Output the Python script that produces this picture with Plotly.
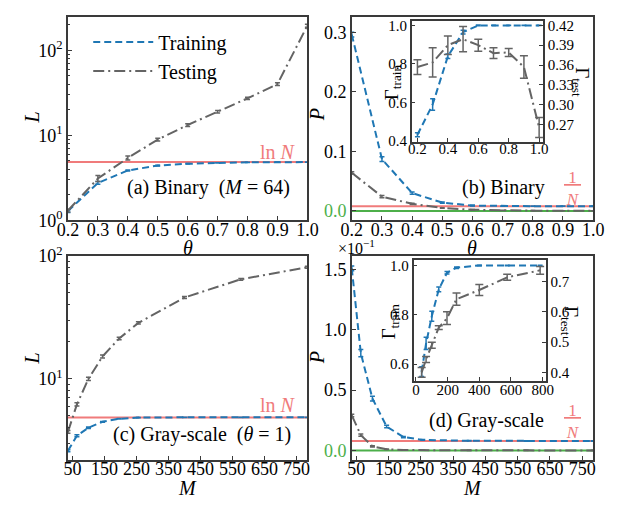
import numpy as np
import plotly.graph_objects as go

# ---------------- data ----------------
theta = [0.2, 0.3, 0.4, 0.5, 0.6, 0.7, 0.8, 0.9, 1.0]
M = [36, 64, 100, 144, 196, 256, 400, 576, 784]
N = 128

# (a) Binary, loss L
a_train = [1.28, 2.75, 3.85, 4.40, 4.62, 4.74, 4.80, 4.82, 4.83]
a_train_err = [0.05, 0.10, 0.06, 0.04, 0.03, 0.02, 0.01, 0.01, 0.01]
a_test = [1.30, 3.10, 5.40, 8.90, 13.2, 18.9, 27.2, 40.0, 195.0]
a_test_err = [0.05, 0.25, 0.30, 0.35, 0.5, 0.6, 0.8, 1.5, 8.0]

# (b) Binary, P
b_train = [0.296, 0.087, 0.030, 0.014, 0.009, 0.008, 0.008, 0.008, 0.008]
b_train_err = [0.004, 0.004, 0.002, 0.001, 0.0005, 0.0003, 0.0003, 0.0003, 0.0003]
b_test = [0.064, 0.024, 0.012, 0.005, 0.002, 0.001, 0.0005, 0.0003, 0.0001]
b_test_err = [0.002, 0.002, 0.001, 0.0005, 0.0003, 0.0002, 0.0001, 0.0001, 0.0001]

# inset (b): Gamma
ib_train = [0.433, 0.590, 0.840, 0.965, 1.0, 1.0, 1.0, 1.0, 1.0]
ib_train_err = [0.010, 0.030, 0.012, 0.010, 0.002, 0.001, 0.001, 0.001, 0.001]
ib_test = [0.357, 0.364, 0.390, 0.399, 0.390, 0.378, 0.379, 0.357, 0.266]
ib_test_err = [0.011, 0.022, 0.014, 0.019, 0.009, 0.008, 0.006, 0.017, 0.015]

# (c) Gray-scale, loss L
c_train = [2.60, 3.44, 4.00, 4.47, 4.73, 4.84, 4.86, 4.86, 4.86]
c_train_err = [0.05, 0.06, 0.05, 0.03, 0.02, 0.01, 0.01, 0.01, 0.01]
c_test = [3.7, 6.2, 10.0, 15.2, 21.3, 28.5, 45.9, 64.5, 81.0]
c_test_err = [0.1, 0.2, 0.3, 0.4, 0.5, 0.6, 0.8, 1.0, 1.5]

# (d) Gray-scale, P (in units of 1e-1)
d_train = [1.51, 0.806, 0.430, 0.198, 0.111, 0.087, 0.080, 0.078, 0.078]
d_train_err = [0.02, 0.03, 0.02, 0.01, 0.005, 0.003, 0.002, 0.002, 0.002]
d_test = [0.290, 0.127, 0.034, 0.010, 0.003, 0.001, 0.0005, 0.0003, 0.0002]
d_test_err = [0.01, 0.01, 0.005, 0.002, 0.001, 0.0005, 0.0003, 0.0002, 0.0002]

# inset (d): Gamma
id_train = [0.570, 0.684, 0.794, 0.903, 0.970, 0.991, 1.0, 1.0, 1.0]
id_train_err = [0.020, 0.025, 0.020, 0.010, 0.005, 0.003, 0.001, 0.001, 0.001]
id_test = [0.400, 0.443, 0.490, 0.548, 0.579, 0.642, 0.672, 0.714, 0.737]
id_test_err = [0.016, 0.010, 0.010, 0.006, 0.021, 0.020, 0.018, 0.010, 0.013]

# ---------------- style ----------------
W, H = 636, 506
BLUE = "#1f77b4"
GRAY = "#646464"
RED = "#f07b7b"
GREEN = "#4daf4a"
FONT = "'Liberation Serif', 'Times New Roman', Times, serif"
FRAME = "#3a3a3a"
BLUE_DASH = "7px,4px"
GRAY_DASH = "11px,4px,2px,4px"

def px(x):
    return x / W

def py(y):
    return 1 - y / H

fig = go.Figure()

def add_pair(xv, tr, tr_e, te, te_e, xa, ya_tr, ya_te=None, legend=False, cap=2.5, tcap=2.5):
    if ya_te is None:
        ya_te = ya_tr
    fig.add_trace(go.Scatter(
        x=xv, y=tr, mode="lines", name="Training", showlegend=legend,
        line=dict(color=BLUE, width=2, dash=BLUE_DASH),
        error_y=dict(type="data", array=tr_e, color=BLUE, thickness=1.5, width=cap),
        xaxis=xa, yaxis=ya_tr))
    fig.add_trace(go.Scatter(
        x=xv, y=te, mode="lines", name="Testing", showlegend=legend,
        line=dict(color=GRAY, width=2, dash=GRAY_DASH),
        error_y=dict(type="data", array=te_e, color=GRAY, thickness=1.5, width=tcap),
        xaxis=xa, yaxis=ya_te))

# reference lines (drawn first so curves on top)
lnN = float(np.log(N))
invN = 1.0 / N
fig.add_trace(go.Scatter(x=[0.2, 1.0], y=[lnN, lnN], mode="lines", showlegend=False,
                         line=dict(color=RED, width=2), xaxis="x", yaxis="y"))
fig.add_trace(go.Scatter(x=[0.2, 1.0], y=[invN, invN], mode="lines", showlegend=False,
                         line=dict(color=RED, width=2), xaxis="x2", yaxis="y2"))
fig.add_trace(go.Scatter(x=[0.2, 1.0], y=[0, 0], mode="lines", showlegend=False,
                         line=dict(color=GREEN, width=2), xaxis="x2", yaxis="y2"))
fig.add_trace(go.Scatter(x=[36, 784], y=[lnN, lnN], mode="lines", showlegend=False,
                         line=dict(color=RED, width=2), xaxis="x3", yaxis="y3"))
fig.add_trace(go.Scatter(x=[36, 784], y=[invN * 10, invN * 10], mode="lines", showlegend=False,
                         line=dict(color=RED, width=2), xaxis="x4", yaxis="y4"))
fig.add_trace(go.Scatter(x=[36, 784], y=[0, 0], mode="lines", showlegend=False,
                         line=dict(color=GREEN, width=2), xaxis="x4", yaxis="y4"))

add_pair(theta, a_train, a_train_err, a_test, a_test_err, "x", "y", legend=True)
add_pair(theta, b_train, b_train_err, b_test, b_test_err, "x2", "y2")
add_pair(M, c_train, c_train_err, c_test, c_test_err, "x3", "y3")
add_pair(M, d_train, d_train_err, d_test, d_test_err, "x4", "y4")
add_pair(theta, ib_train, ib_train_err, ib_test, ib_test_err, "x5", "y5", "y6", cap=2.5, tcap=4)
add_pair(M, id_train, id_train_err, id_test, id_test_err, "x6", "y7", "y8", cap=2.5, tcap=4)

TICKF = dict(family=FONT, size=18, color="black")
ITICKF = dict(family=FONT, size=15, color="black")

def ax(domain, rng, fontd=TICKF, **kw):
    d = dict(domain=domain, range=rng, showline=True, linecolor=FRAME, linewidth=1.5,
             mirror=True, ticks="inside", ticklen=4, tickwidth=1, tickcolor=FRAME,
             showgrid=False, zeroline=False, tickfont=fontd)
    d.update(kw)
    return d

xa_dom = [px(59), px(307)]
xb_dom = [px(353), px(603)]
ytop = [py(217.7), py(5)]
ybot = [py(468.3), py(255)]

theta_ticks = theta
theta_text = ["%.1f" % t for t in theta]
M_ticks = [50, 150, 250, 350, 450, 550, 650, 750]
green00 = "<span style='color:%s'>0.0</span>" % GREEN
XSO = -8

fig.update_layout(
    width=W, height=H, margin=dict(l=0, r=0, t=0, b=0),
    paper_bgcolor="white", plot_bgcolor="white",
    font=dict(family=FONT, size=18, color="black"),
    xaxis=ax(xa_dom, [0.2, 1.0], anchor="y", tickmode="array", tickvals=theta_ticks, ticktext=theta_text,
             ticklabelstandoff=XSO),
    yaxis=ax(ytop, [0, 2.394], anchor="x", type="log", tickmode="array", tickvals=[1, 10, 100],
             ticktext=["10<sup>0</sup>", "10<sup>1</sup>", "10<sup>2</sup>"],
             minor=dict(ticks="inside", ticklen=2, tickcolor=FRAME, dtick="D1", showgrid=False)),
    xaxis2=ax(xb_dom, [0.2, 1.0], anchor="y2", tickmode="array", tickvals=theta_ticks, ticktext=theta_text,
              ticklabelstandoff=XSO),
    yaxis2=ax(ytop, [-0.0156, 0.326], anchor="x2", tickmode="array", tickvals=[0, 0.1, 0.2, 0.3],
              ticktext=[green00, "0.1", "0.2", "0.3"]),
    xaxis3=ax(xa_dom, [36, 784], anchor="y3", tickmode="array", tickvals=M_ticks, ticklabelstandoff=XSO),
    yaxis3=ax(ybot, [0.34, 2.0], anchor="x3", type="log", tickmode="array", tickvals=[10, 100],
              ticktext=["10<sup>1</sup>", "10<sup>2</sup>"],
              minor=dict(ticks="inside", ticklen=2, tickcolor=FRAME, dtick="D1", showgrid=False)),
    xaxis4=ax(xb_dom, [36, 784], anchor="y4", tickmode="array", tickvals=M_ticks, ticklabelstandoff=XSO),
    yaxis4=ax(ybot, [-0.079, 1.613], anchor="x4", tickmode="array", tickvals=[0, 0.5, 1.0, 1.5],
              ticktext=[green00, "0.5", "1.0", "1.5"]),
    # inset b
    xaxis5=ax([px(415), px(551)], [0.162, 1.025], ITICKF, anchor="y5", tickmode="array",
              tickvals=[0.2, 0.4, 0.6, 0.8, 1.0], ticktext=["0.2", "0.4", "0.6", "0.8", "1.0"],
              ticklabelstandoff=-8),
    yaxis5=ax([py(136), py(9)], [0.395, 1.025], ITICKF, anchor="x5", mirror=False, tickmode="array",
              tickvals=[0.4, 0.6, 0.8, 1.0], ticktext=["0.4", "0.6", "0.8", "1.0"]),
    yaxis6=ax([py(136), py(9)], [0.244, 0.427], ITICKF, anchor="x5", overlaying="y5", side="right",
              mirror=False, tickmode="array", tickvals=[0.27, 0.30, 0.33, 0.36, 0.39, 0.42],
              ticktext=["0.27", "0.30", "0.33", "0.36", "0.39", "0.42"]),
    # inset d
    xaxis6=ax([px(417), px(554)], [-15, 820], ITICKF, anchor="y7", tickmode="array",
              tickvals=[0, 200, 400, 600, 800], ticklabelstandoff=-6),
    yaxis7=ax([py(386), py(259)], [0.531, 1.023], ITICKF, anchor="x6", mirror=False, tickmode="array",
              tickvals=[0.6, 0.8, 1.0], ticktext=["0.6", "0.8", "1.0"]),
    yaxis8=ax([py(386), py(259)], [0.371, 0.772], ITICKF, anchor="x6", overlaying="y7", side="right",
              mirror=False, tickmode="array", tickvals=[0.4, 0.5, 0.6, 0.7],
              ticktext=["0.4", "0.5", "0.6", "0.7"]),
    legend=dict(x=px(80), y=py(11), xanchor="left", yanchor="top", bgcolor="rgba(0,0,0,0)",
                font=dict(family=FONT, size=20), tracegroupgap=0, itemwidth=60),
)

ann = []
def text(x, y, s, size=20, color="black", angle=0):
    ann.append(dict(x=px(x), y=py(y), xref="paper", yref="paper", text=s, showarrow=False,
                    font=dict(family=FONT, size=size, color=color), textangle=angle,
                    xanchor="center", yanchor="middle"))

# axis titles
text(183, 247, "<i>θ</i>", 20)
text(478, 247, "<i>θ</i>", 20)
text(183, 498, "<i>M</i>", 20)
text(478, 498, "<i>M</i>", 20)
text(22, 110, "<i>L</i>", 20, angle=-90)
text(22, 362, "<i>L</i>", 20, angle=-90)
text(317, 108, "<i>P</i>", 20, angle=-90)
text(317, 362, "<i>P</i>", 20, angle=-90)
# inset axis titles
text(395, 73, "Γ<sub>train</sub>", 19, angle=-90)
text(591, 73, "Γ<sub>test</sub>", 19, angle=90)
text(393, 323, "Γ<sub>train</sub>", 19, angle=-90)
text(579, 323, "Γ<sub>test</sub>", 19, angle=90)
# panel labels
text(205, 183, "(a) Binary &nbsp;(<i>M</i> = 64)", 20)
text(277, 146, "ln <i>N</i>", 20, RED)
text(510, 183, "(b) Binary", 20)
text(582, 184, "<u>&nbsp;1&nbsp;</u><br><i>N</i>", 17, RED)
text(198, 442, "(c) Gray-scale &nbsp;(<i>θ</i> = 1)", 20)
text(277, 411, "ln <i>N</i>", 20, RED)
text(493, 427, "(d) Gray-scale", 20)
text(582, 428, "<u>&nbsp;1&nbsp;</u><br><i>N</i>", 17, RED)
text(358, 246, "×10<sup>−1</sup>", 16)

fig.update_layout(annotations=ann)
fig.write_html("out.html")
